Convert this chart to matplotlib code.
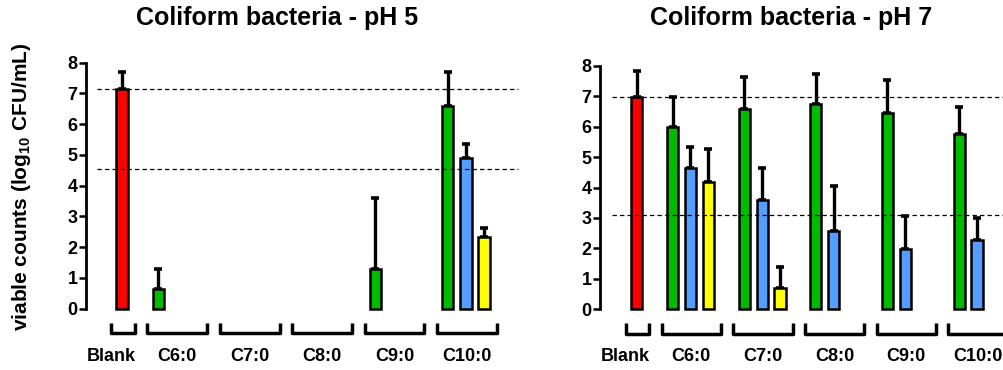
import numpy as np
import matplotlib
matplotlib.use('Agg')
import matplotlib.pyplot as plt
import matplotlib.transforms as mtransforms

plt.rcParams['font.family'] = ['Liberation Sans', 'DejaVu Sans']
plt.rcParams['mathtext.fontset'] = 'custom'
plt.rcParams['mathtext.rm'] = 'Liberation Sans:bold'
plt.rcParams['mathtext.bf'] = 'Liberation Sans:bold'

# data (log10 CFU/mL), nan = no bar
groups = ['Blank', 'C6:0', 'C7:0', 'C8:0', 'C9:0', 'C10:0']
nan = np.nan

blank_ph5, blank_err_ph5 = 7.13, 0.58
green_ph5 = [0.63, nan, nan, 1.28, 6.59]
green_err_ph5 = [0.65, nan, nan, 2.32, 1.12]
blue_ph5 = [nan, nan, nan, nan, 4.90]
blue_err_ph5 = [nan, nan, nan, nan, 0.45]
yellow_ph5 = [nan, nan, nan, nan, 2.34]
yellow_err_ph5 = [nan, nan, nan, nan, 0.27]
ref_lines_ph5 = [7.13, 4.55]

blank_ph7, blank_err_ph7 = 6.98, 0.86
green_ph7 = [6.00, 6.59, 6.73, 6.46, 5.75]
green_err_ph7 = [0.98, 1.03, 0.99, 1.07, 0.88]
blue_ph7 = [4.63, 3.59, 2.57, 1.99, 2.28]
blue_err_ph7 = [0.71, 1.04, 1.48, 1.07, 0.73]
yellow_ph7 = [4.17, 0.70, nan, nan, nan]
yellow_err_ph7 = [1.09, 0.70, nan, nan, nan]
ref_lines_ph7 = [6.98, 3.11]

RED = '#ff0000'
GREEN = '#00bb00'
BLUE = '#559eff'
YELLOW = '#ffff00'


def draw_panel(ax, title, title_x, blank, blank_err, green, green_err,
               blue, blue_err, yellow, yellow_err, ref_lines, xlim):
    bw = 0.62
    # slot layout: blank at 0, then groups of 3 slots with one gap
    xs, vals, errs, cols = [0], [blank], [blank_err], [RED]
    for g in range(5):
        start = 2 + 4 * g
        for k, (v, e, c) in enumerate([(green, green_err, GREEN),
                                       (blue, blue_err, BLUE),
                                       (yellow, yellow_err, YELLOW)]):
            if not np.isnan(v[g]):
                xs.append(start + k)
                vals.append(v[g])
                errs.append(e[g])
                cols.append(c)
    ax.bar(xs, vals, width=bw, color=cols, edgecolor='black',
           linewidth=1.8, zorder=3, clip_on=False)
    ax.errorbar(xs, vals, yerr=[np.zeros(len(errs)), errs], fmt='none',
                ecolor='black', elinewidth=2.4, capsize=3.2, capthick=2.6,
                zorder=2)
    for y in ref_lines:
        ax.hlines(y, -1.4, xlim[1] + 1, colors='black', linestyles=(0, (3.5, 2.5)),
                  linewidth=0.9, zorder=4, clip_on=False)

    ax.set_xlim(*xlim)
    ax.set_ylim(0, 8)
    for s in ['top', 'right', 'bottom']:
        ax.spines[s].set_visible(False)
    ax.spines['left'].set_linewidth(2.0)
    ax.spines['left'].set_bounds(0, 8)
    ax.set_xticks([])
    ax.set_yticks(range(9))
    ax.tick_params(axis='y', length=5, width=1.8, pad=1, labelsize=13)
    for lab in ax.get_yticklabels():
        lab.set_fontweight('bold')

    # group brackets and labels below the bars
    trans = mtransforms.blended_transform_factory(ax.transData, ax.transAxes)
    spans = [(0, 0)] + [(2 + 4 * g, 4 + 4 * g) for g in range(5)]
    for name, (a, b) in zip(groups, spans):
        x0, x1 = a - 0.6, b + 0.7
        ax.plot([x0, x0, x1, x1], [-0.057, -0.1, -0.1, -0.057], color='black',
                lw=2.5, transform=trans, clip_on=False, solid_joinstyle='round',
                solid_capstyle='butt')
        if name == 'Blank':
            ax.text(x1 + 0.05, -0.195, name, transform=trans, ha='right',
                    va='center', fontsize=13, fontweight='bold')
        else:
            ax.text((x0 + x1) / 2, -0.195, name, transform=trans, ha='center',
                    va='center', fontsize=13, fontweight='bold')

    ax.figure.text(title_x, 0.95, title, ha='center', va='center',
                   fontsize=18, fontweight='bold')


fig = plt.figure(figsize=(10.04, 3.70), dpi=100)
ax1 = fig.add_axes([86 / 1004, 61.3 / 370, 414 / 1004, 246 / 370])
ax2 = fig.add_axes([600 / 1004, 60.7 / 370, 411 / 1004, 243.6 / 370])

draw_panel(ax1, 'Coliform bacteria - pH 5', 277 / 1004, blank_ph5, blank_err_ph5,
           green_ph5, green_err_ph5, blue_ph5, blue_err_ph5,
           yellow_ph5, yellow_err_ph5, ref_lines_ph5, (-1.99, 20.88))
draw_panel(ax2, 'Coliform bacteria - pH 7', 791 / 1004, blank_ph7, blank_err_ph7,
           green_ph7, green_err_ph7, blue_ph7, blue_err_ph7,
           yellow_ph7, yellow_err_ph7, ref_lines_ph7, (-2.05, 20.9))

fig.text(22 / 1004, 1 - 187 / 370, r'viable counts (log$_{10}$ CFU/mL)',
         rotation=90, ha='center', va='center', fontsize=15, fontweight='bold')

fig.savefig('out.png', dpi=100)
